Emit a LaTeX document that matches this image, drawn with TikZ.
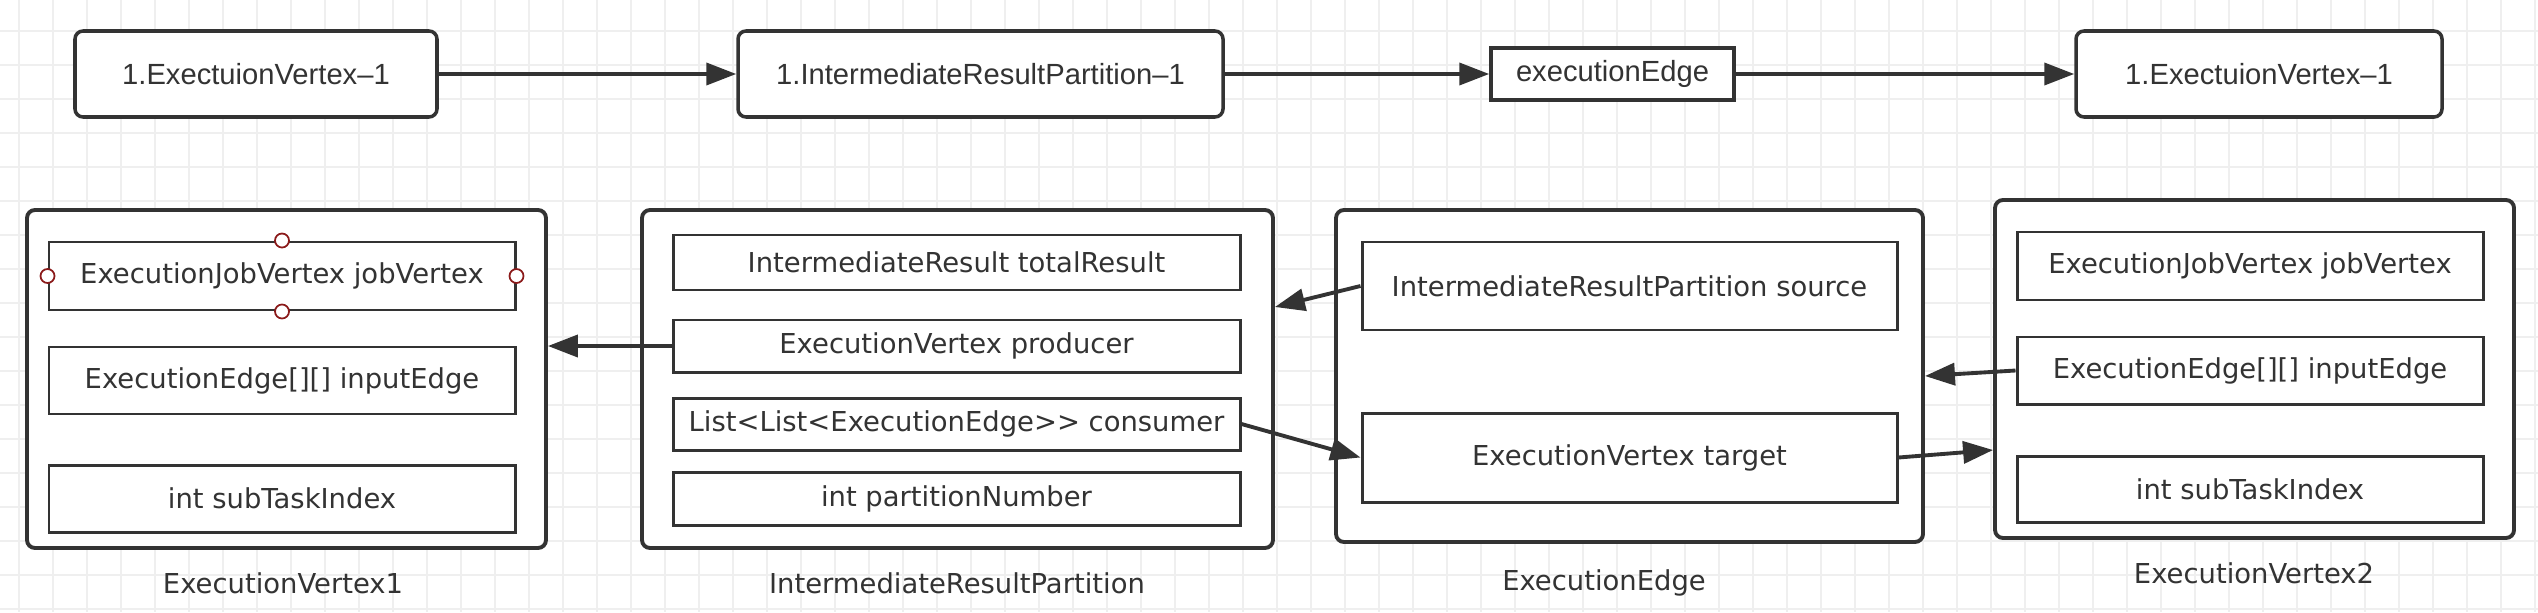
\documentclass[tikz,border=0pt]{standalone}
\usepackage{fontspec}
\setmainfont{DejaVu Sans}
\newfontfamily\topfont{Liberation Sans}
\usepackage{xcolor}
\usetikzlibrary{arrows.meta}
\definecolor{ink}{HTML}{333333}
\definecolor{gridc}{HTML}{EFEFEF}
\definecolor{handc}{HTML}{8B1A1A}
\tikzset{obj/.style={draw=ink,line width=1.1pt,rounded corners=0.08cm,fill=white,inner sep=0},
    fld/.style={draw=ink,line width=0.85pt,fill=white,inner sep=0,text=ink,font=\fontsize{7.8}{9}\selectfont},
    topbox/.style={draw=ink,line width=1pt,rounded corners=0.08cm,fill=white,inner sep=0,text=ink,font=\topfont\fontsize{8.3}{10}\selectfont},
    objname/.style={text=ink,font=\fontsize{7.8}{9}\selectfont},
    hdl/.style={draw=handc,line width=0.5pt,fill=white},
    conn/.style={draw=ink,line width=1.1pt}}

\begin{document}
\begin{tikzpicture}[>={Triangle[length=3mm,width=2.2mm]}]
    \useasboundingbox (0,0) rectangle (25.38,-6.12);
    \fill[white] (0,0) rectangle (25.38,-6.12);
    \foreach \x in {0.19,0.53,...,25.38} \draw[gridc,line width=0.6pt] (\x,0) -- (\x,-6.12);
    \foreach \y in {0.31,0.65,...,6.12} \draw[gridc,line width=0.6pt] (0,-\y) -- (25.38,-\y);

    % top row
    \node[topbox,minimum width=3.62cm,minimum height=0.86cm] (t1) at (2.56,-0.74) {1.ExectuionVertex–1};
    \node[topbox,minimum width=4.85cm,minimum height=0.86cm] (t2) at (9.805,-0.74) {1.IntermediateResultPartition–1};
    \node[topbox,rounded corners=0,minimum width=2.43cm,minimum height=0.52cm] (t3) at (16.125,-0.74) {executionEdge};
    \node[topbox,minimum width=3.66cm,minimum height=0.86cm] (t4) at (22.59,-0.74) {1.ExectuionVertex–1};

    % objects
    \node[obj,minimum width=5.19cm,minimum height=3.38cm] (ev1) at (2.865,-3.79) {};
    \node[obj,minimum width=6.31cm,minimum height=3.38cm] (irp) at (9.575,-3.79) {};
    \node[obj,minimum width=5.87cm,minimum height=3.32cm] (edge) at (16.295,-3.76) {};
    \node[obj,minimum width=5.19cm,minimum height=3.38cm] (ev2) at (22.545,-3.69) {};

    \node[fld,minimum width=4.66cm,minimum height=0.68cm] (jv1) at (2.82,-2.76) {ExecutionJobVertex jobVertex};
    \node[fld,minimum width=4.66cm,minimum height=0.67cm] (ie1) at (2.82,-3.805) {ExecutionEdge[][] inputEdge};
    \node[fld,minimum width=4.66cm,minimum height=0.67cm] (st1) at (2.82,-4.985) {int subTaskIndex};

    \node[fld,minimum width=5.67cm,minimum height=0.55cm] (tr) at (9.565,-2.625) {IntermediateResult totalResult};
    \node[fld,minimum width=5.67cm,minimum height=0.52cm] (prod) at (9.565,-3.46) {ExecutionVertex producer};
    \node[fld,minimum width=5.67cm,minimum height=0.52cm] (cons) at (9.565,-4.24) {List<List<ExecutionEdge>{}> consumer};
    \node[fld,minimum width=5.67cm,minimum height=0.53cm] (pn) at (9.565,-4.985) {int partitionNumber};

    \node[fld,minimum width=5.35cm,minimum height=0.88cm] (src) at (16.295,-2.86) {IntermediateResultPartition source};
    \node[fld,minimum width=5.35cm,minimum height=0.89cm] (tgt) at (16.295,-4.575) {ExecutionVertex target};

    \node[fld,minimum width=4.66cm,minimum height=0.68cm] (jv2) at (22.50,-2.66) {ExecutionJobVertex jobVertex};
    \node[fld,minimum width=4.66cm,minimum height=0.67cm] (ie2) at (22.50,-3.705) {ExecutionEdge[][] inputEdge};
    \node[fld,minimum width=4.66cm,minimum height=0.66cm] (st2) at (22.50,-4.89) {int subTaskIndex};

    \node[objname] (ev1name) at (2.83,-5.83) {ExecutionVertex1};
    \node[objname] (irpname) at (9.57,-5.83) {IntermediateResultPartition};
    \node[objname] (edgename) at (16.04,-5.83) {ExecutionEdge};
    \node[objname] (ev2name) at (22.54,-5.73) {ExecutionVertex2};

    \foreach \a in {north,south,east,west} \draw[hdl] (jv1.\a) circle (0.07);

    \draw [->,conn] (t1) to [] (t2);
    \draw [->,conn] (t2) to [] (t3);
    \draw [->,conn] (t3) to [] (t4);
    \draw [->,conn] (prod.west) to [] (prod.west -| ev1.east);
    \draw [->,conn] (src.west) to [] ([yshift=0.72cm]irp.east);
    \draw [->,conn] (cons.east) to [] (tgt.west);
    \draw [->,conn] (tgt.east) to [] ([yshift=-0.81cm]ev2.west);
    \draw [->,conn] (ie2.west) to [] (edge.east);
\end{tikzpicture}
\end{document}
